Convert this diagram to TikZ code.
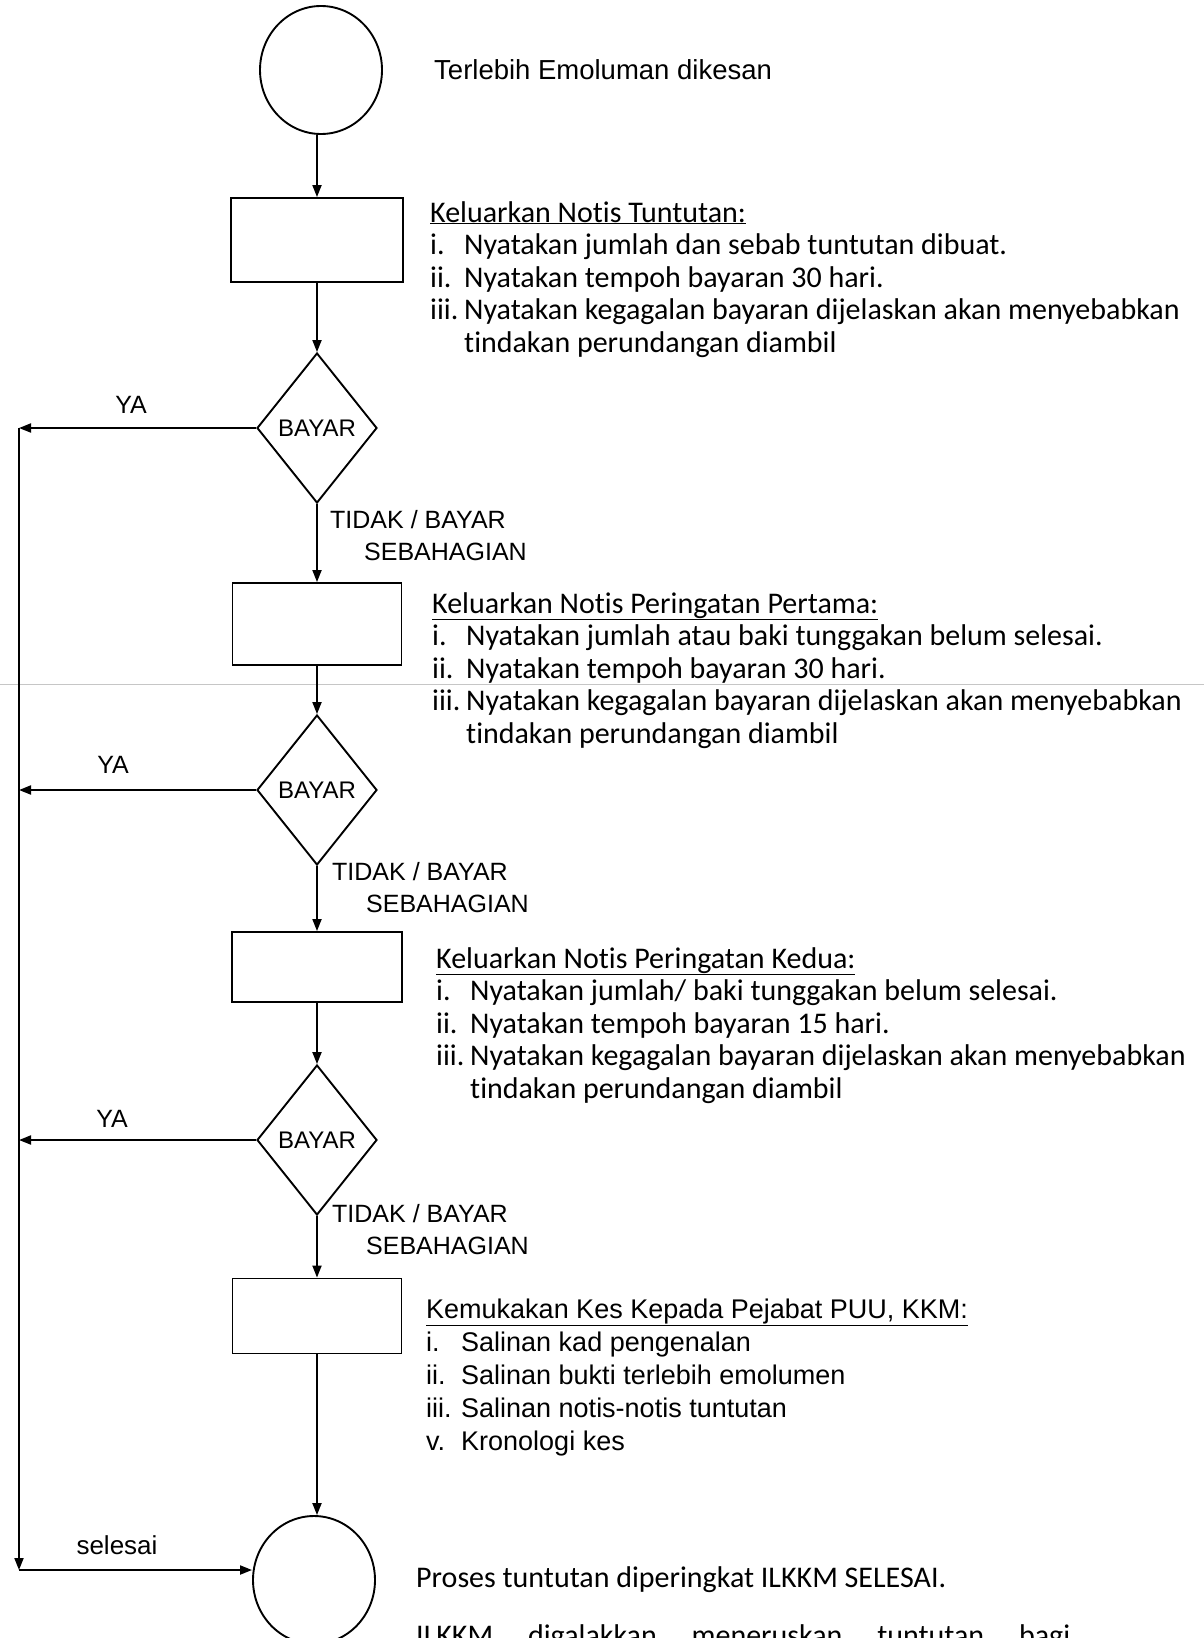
\documentclass[tikz,border=0pt]{standalone}
\usepackage{fontspec}
\setmainfont{Liberation Sans}
\newfontfamily\cf[Ligatures=NoCommon]{Carlito}
\usetikzlibrary{shapes.geometric,arrows.meta}
\newcommand\blitem[3][34pt]{\makebox[#1][l]{#2}#3}
\begin{document}
\begin{tikzpicture}[x=1pt,y=-1pt,
  arr/.style={line width=1.9pt, -{Triangle[length=12pt,width=9pt]}},
  procbox/.style={draw, line width=1.9pt, rectangle, inner sep=0pt},
  dec/.style={draw, line width=1.9pt, diamond, minimum width=120pt, minimum height=150pt, inner sep=0pt, font=\fontsize{24}{28}\selectfont},
  term/.style={draw, line width=1.9pt, ellipse, minimum width=122pt, minimum height=128pt, inner sep=0pt},
  lbl/.style={inner sep=0pt, font=\fontsize{25}{32}\selectfont},
  blk/.style={inner sep=0pt, anchor=base west, font=\cf\fontsize{30}{32.5}\selectfont},
  blkb/.style={inner sep=0pt, anchor=base west, font=\fontsize{27}{33}\selectfont},
]
\fill[white] (0,0) rectangle (1204,1638);
\useasboundingbox (0,0) rectangle (1204,1638);

% scan artefact line
\draw[gray!45, line width=1pt] (0,684) -- (1204,684);

% flow shapes
\node[term] (start) at (321,70) {};
\node[procbox, minimum width=172pt, minimum height=84pt] (box1) at (317,240) {};
\node[dec] (d1) at (317,428) {BAYAR};
\node[procbox, minimum width=169pt, minimum height=82pt] (box2) at (317,624) {};
\node[dec] (d2) at (317,790) {BAYAR};
\node[procbox, minimum width=170pt, minimum height=70pt] (box3) at (317,967) {};
\node[dec] (d3) at (317,1140) {BAYAR};
\node[procbox, minimum width=169pt, minimum height=75pt] (box4) at (317,1316) {};
\node[term] (end) at (314,1580) {};

% rail coordinates
\coordinate (r1) at (19,428);
\coordinate (r2) at (19,790);
\coordinate (r3) at (19,1140);
\coordinate (rb) at (19,1570);

% main connectors
\draw[arr] (start.south -| box1.north) -- (box1.north);
\draw[arr] (box1) -- (d1);
\draw[arr] (d1) -- (box2);
\draw[arr] (box2) -- (d2);
\draw[arr] (d2) -- (box3);
\draw[arr] (box3) -- (d3);
\draw[arr] (d3) -- (box4);
\draw[arr] (box4.south) -- (box4.south |- end.north);

% YA branches
\draw[arr] (d1.west) -- (r1);
\draw[arr] (d2.west) -- (r2);
\draw[arr] (d3.west) -- (r3);
\draw[arr] (r1) -- (rb);
\draw[arr] (rb) -- (rb -| end.west);

% labels
\node[lbl] (ya1) at (131,405) {YA};
\node[lbl] (ya2) at (113,765) {YA};
\node[lbl] (ya3) at (112,1119) {YA};
\node[lbl, anchor=base west] (no1) at (330,528) {\begin{tabular}[t]{@{}l@{}}TIDAK / BAYAR\\\hspace*{34pt}SEBAHAGIAN\end{tabular}};
\node[lbl, anchor=base west] (no2) at (332,880) {\begin{tabular}[t]{@{}l@{}}TIDAK / BAYAR\\\hspace*{34pt}SEBAHAGIAN\end{tabular}};
\node[lbl, anchor=base west] (no3) at (332,1222) {\begin{tabular}[t]{@{}l@{}}TIDAK / BAYAR\\\hspace*{34pt}SEBAHAGIAN\end{tabular}};
\node[inner sep=0pt, font=\fontsize{26}{30}\selectfont] (sel) at (117,1545) {selesai};

\node[inner sep=0pt, anchor=west, font=\fontsize{27.5}{32}\selectfont] (tstart) at (434,70) {Terlebih Emoluman dikesan};

% text blocks
\node[blk] (t1) at (430,222) {\begin{tabular}[t]{@{}l@{}}
\underline{Keluarkan Notis Tuntutan:}\\
\blitem{i.}{Nyatakan jumlah dan sebab tuntutan dibuat.}\\
\blitem{ii.}{Nyatakan tempoh bayaran 30 hari.}\\
\blitem{iii.}{Nyatakan kegagalan bayaran dijelaskan akan menyebabkan}\\
\blitem{}{tindakan perundangan diambil}
\end{tabular}};

\node[blk] (t2) at (432,613) {\begin{tabular}[t]{@{}l@{}}
\underline{Keluarkan Notis Peringatan Pertama:}\\
\blitem{i.}{Nyatakan jumlah atau baki tunggakan belum selesai.}\\
\blitem{ii.}{Nyatakan tempoh bayaran 30 hari.}\\
\blitem{iii.}{Nyatakan kegagalan bayaran dijelaskan akan menyebabkan}\\
\blitem{}{tindakan perundangan diambil}
\end{tabular}};

\node[blk] (t3) at (436,968) {\begin{tabular}[t]{@{}l@{}}
\underline{Keluarkan Notis Peringatan Kedua:}\\
\blitem{i.}{Nyatakan jumlah/ baki tunggakan belum selesai.}\\
\blitem{ii.}{Nyatakan tempoh bayaran 15 hari.}\\
\blitem{iii.}{Nyatakan kegagalan bayaran dijelaskan akan menyebabkan}\\
\blitem{}{tindakan perundangan diambil}
\end{tabular}};

\node[blkb] (t4) at (426,1318) {\begin{tabular}[t]{@{}l@{}}
\underline{Kemukakan Kes Kepada Pejabat PUU, KKM:}\\
\blitem[35pt]{i.}{Salinan kad pengenalan}\\
\blitem[35pt]{ii.}{Salinan bukti terlebih emolumen}\\
\blitem[35pt]{iii.}{Salinan notis-notis tuntutan}\\
\blitem[35pt]{v.}{Kronologi kes}
\end{tabular}};

\node[inner sep=0pt, anchor=west, font=\cf\fontsize{30}{32}\selectfont] (tend) at (416,1580) {Proses tuntutan diperingkat ILKKM SELESAI.};
\node[inner sep=0pt, anchor=base west, font=\cf\fontsize{30}{32}\selectfont] (tbot) at (416,1645) {\hbox to 654pt{ILKKM\hfill digalakkan\hfill meneruskan\hfill tuntutan\hfill bagi}};
\end{tikzpicture}
\end{document}
